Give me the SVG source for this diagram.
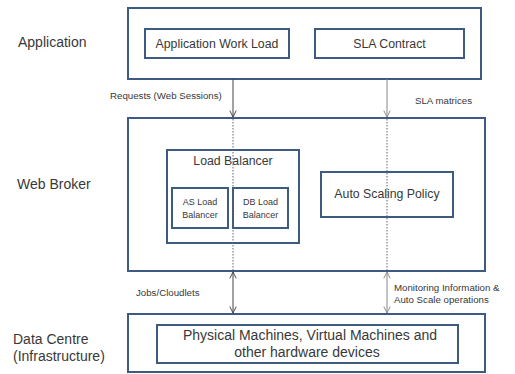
<svg xmlns="http://www.w3.org/2000/svg" width="515" height="374" viewBox="0 0 515 374">
  <defs>
    <style>
      .box { fill: #ffffff; stroke: #3d5a80; stroke-width: 2; }
      .lbl { font-family: "Liberation Sans", Arial, sans-serif; fill: #383838; }
      .big { font-size: 14px; }
      .mid { font-size: 12.3px; }
      .sm { font-size: 9.7px; }
      .tiny { font-size: 9px; }
      .flow { stroke: #444444; stroke-width: 1; fill: none; }
      .flow2 { stroke: #888888; stroke-width: 1; fill: none; }
      .dot { stroke: #666666; stroke-width: 1; stroke-dasharray: 1.5 1.5; fill: none; }
    </style>
    <marker id="head" viewBox="0 0 10 10" refX="9" refY="5" markerWidth="8" markerHeight="8" orient="auto-start-reverse" markerUnits="userSpaceOnUse">
      <path d="M1,1 L9,5 L1,9" fill="none" stroke="#444444" stroke-width="1.2"/>
    </marker>
    <marker id="head2" viewBox="0 0 10 10" refX="9" refY="5" markerWidth="8" markerHeight="8" orient="auto-start-reverse" markerUnits="userSpaceOnUse">
      <path d="M1,1 L9,5 L1,9" fill="none" stroke="#888888" stroke-width="1.2"/>
    </marker>
  </defs>
  <rect width="515" height="374" fill="#ffffff"/>

  <!-- layer labels -->
  <g id="layer-labels">
    <text class="lbl big" x="18" y="47">Application</text>
    <text class="lbl big" x="17" y="189">Web Broker</text>
    <text class="lbl big" x="13" y="344">Data Centre</text>
    <text class="lbl big" x="13" y="361">(Infrastructure)</text>
  </g>

  <!-- application layer -->
  <g id="application">
    <rect class="box" x="128" y="8" width="353" height="71"/>
  </g>
  <g id="app-workload">
    <rect class="box" x="145" y="29" width="144" height="29"/>
    <text class="lbl mid" x="217" y="48" text-anchor="middle">Application Work Load</text>
  </g>
  <g id="sla-contract">
    <rect class="box" x="315" y="29" width="149" height="29"/>
    <text class="lbl mid" x="389.5" y="48" text-anchor="middle">SLA Contract</text>
  </g>

  <!-- web broker layer -->
  <g id="web-broker">
    <rect class="box" x="128" y="118" width="357" height="153"/>
  </g>
  <g id="load-balancer">
    <rect class="box" x="167" y="150" width="132" height="93"/>
    <text class="lbl mid" x="233" y="165" text-anchor="middle">Load Balancer</text>
  </g>
  <g id="as-load-balancer">
    <rect class="box" x="172" y="188" width="56" height="40"/>
    <text class="lbl tiny" x="200" y="205" text-anchor="middle">AS Load</text>
    <text class="lbl tiny" x="200" y="218" text-anchor="middle">Balancer</text>
  </g>
  <g id="db-load-balancer">
    <rect class="box" x="233" y="188" width="55" height="40"/>
    <text class="lbl tiny" x="260.5" y="205" text-anchor="middle">DB Load</text>
    <text class="lbl tiny" x="260.5" y="218" text-anchor="middle">Balancer</text>
  </g>
  <g id="auto-scaling">
    <rect class="box" x="321" y="172" width="132" height="45"/>
    <text class="lbl mid" x="387" y="198" text-anchor="middle">Auto Scaling Policy</text>
  </g>

  <!-- data centre layer -->
  <g id="data-centre">
    <rect class="box" x="128" y="314" width="357" height="58"/>
  </g>
  <g id="machines">
    <rect class="box" x="157" y="325" width="301" height="38"/>
    <text class="lbl big" x="183" y="340" textLength="254" lengthAdjust="spacing">Physical Machines, Virtual Machines and</text>
    <text class="lbl big" x="307" y="357" text-anchor="middle">other hardware devices</text>
  </g>

  <!-- connectors -->
  <g id="connectors">
    <line class="flow" x1="233" y1="79" x2="233" y2="117" marker-end="url(#head)"/>
    <line class="flow2" x1="387" y1="79" x2="387" y2="117" marker-end="url(#head2)"/>
    <line class="dot" x1="233" y1="119" x2="233" y2="270"/>
    <line class="dot" x1="387" y1="119" x2="387" y2="270"/>
    <line class="flow" x1="233" y1="272" x2="233" y2="313" marker-start="url(#head)" marker-end="url(#head)"/>
    <line class="flow2" x1="387" y1="272" x2="387" y2="313" marker-start="url(#head2)" marker-end="url(#head2)"/>
    <text class="lbl sm" x="110" y="99">Requests (Web Sessions)</text>
    <text class="lbl sm" x="415" y="104">SLA matrices</text>
    <text class="lbl sm" x="136" y="296">Jobs/Cloudlets</text>
    <text class="lbl sm" x="394" y="291">Monitoring Information &amp;</text>
    <text class="lbl sm" x="394" y="303">Auto Scale operations</text>
  </g>
</svg>
